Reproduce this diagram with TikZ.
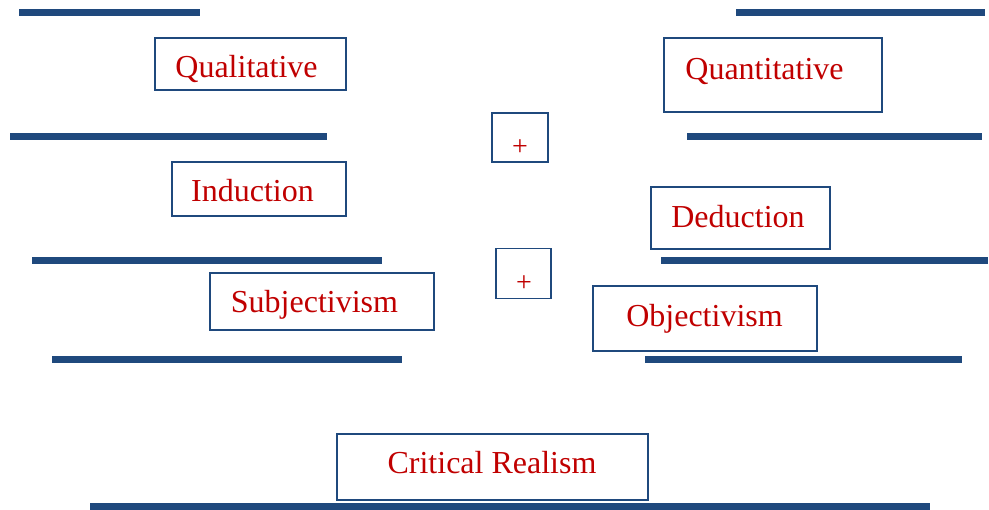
\documentclass[tikz,border=0pt]{standalone}
\usepackage{fontspec}
\setmainfont{Liberation Serif}
\definecolor{navy}{HTML}{1F497D}
\definecolor{crimson}{HTML}{C00000}

\begin{document}
\begin{tikzpicture}[x=1pt,y=-1pt,
  term/.style={draw=navy,line width=1.6pt,inner sep=0pt},
  lbl/.style={text=crimson,inner sep=0pt,text height=0pt,text depth=0pt,font=\fontsize{32}{36}\selectfont},
  word/.style n args={3}{label={[lbl,xshift=#1pt,yshift=-#2pt]center:#3}},
  plus/.style n args={2}{label={[lbl,font=\fontsize{28}{32}\selectfont,xshift=#1pt,yshift=-#2pt]center:+}},
  bar/.style={navy,line width=7pt}]
  \useasboundingbox (0,0) rectangle (989,510);
  % left column
  \node[term,minimum width=191pt,minimum height=52pt,word={-4}{14}{Qualitative}] (qual) at (250.5,64) {};
  \node[term,minimum width=174pt,minimum height=54pt,word={-6.5}{13}{Induction}] (ind) at (259,189) {};
  \node[term,minimum width=224pt,minimum height=57pt,word={-7.5}{11.5}{Subjectivism}] (subj) at (322,301.5) {};
  % right column
  \node[term,minimum width=218pt,minimum height=74pt,word={-8.5}{5}{Quantitative}] (quant) at (773,75) {};
  \node[term,minimum width=179pt,minimum height=62pt,word={-2.5}{10}{Deduction}] (ded) at (740.5,218) {};
  \node[term,minimum width=224pt,minimum height=65pt,word={-0.5}{8.5}{Objectivism}] (obj) at (705,318.5) {};
  % middle
  \node[term,minimum width=56pt,minimum height=49pt,plus={0}{18}] (plusA) at (520,137.5) {};
  \node[term,minimum width=55pt,minimum height=50pt,plus={0.5}{18}] (plusB) at (523.5,273.5) {};
  \node[term,minimum width=311pt,minimum height=66pt,word={-0.5}{7}{Critical Realism}] (cr) at (492.5,467) {};
  % bars
  \draw[bar] (19,13) -- (200,13);   \draw[bar] (736,13) -- (985,13);
  \draw[bar] (10,137) -- (327,137); \draw[bar] (687,137) -- (982,137);
  \draw[bar] (32,261) -- (382,261); \draw[bar] (661,261) -- (988,261);
  \draw[bar] (52,360) -- (402,360); \draw[bar] (645,360) -- (962,360);
  \draw[bar] (90,507) -- (930,507);
\end{tikzpicture}
\end{document}
